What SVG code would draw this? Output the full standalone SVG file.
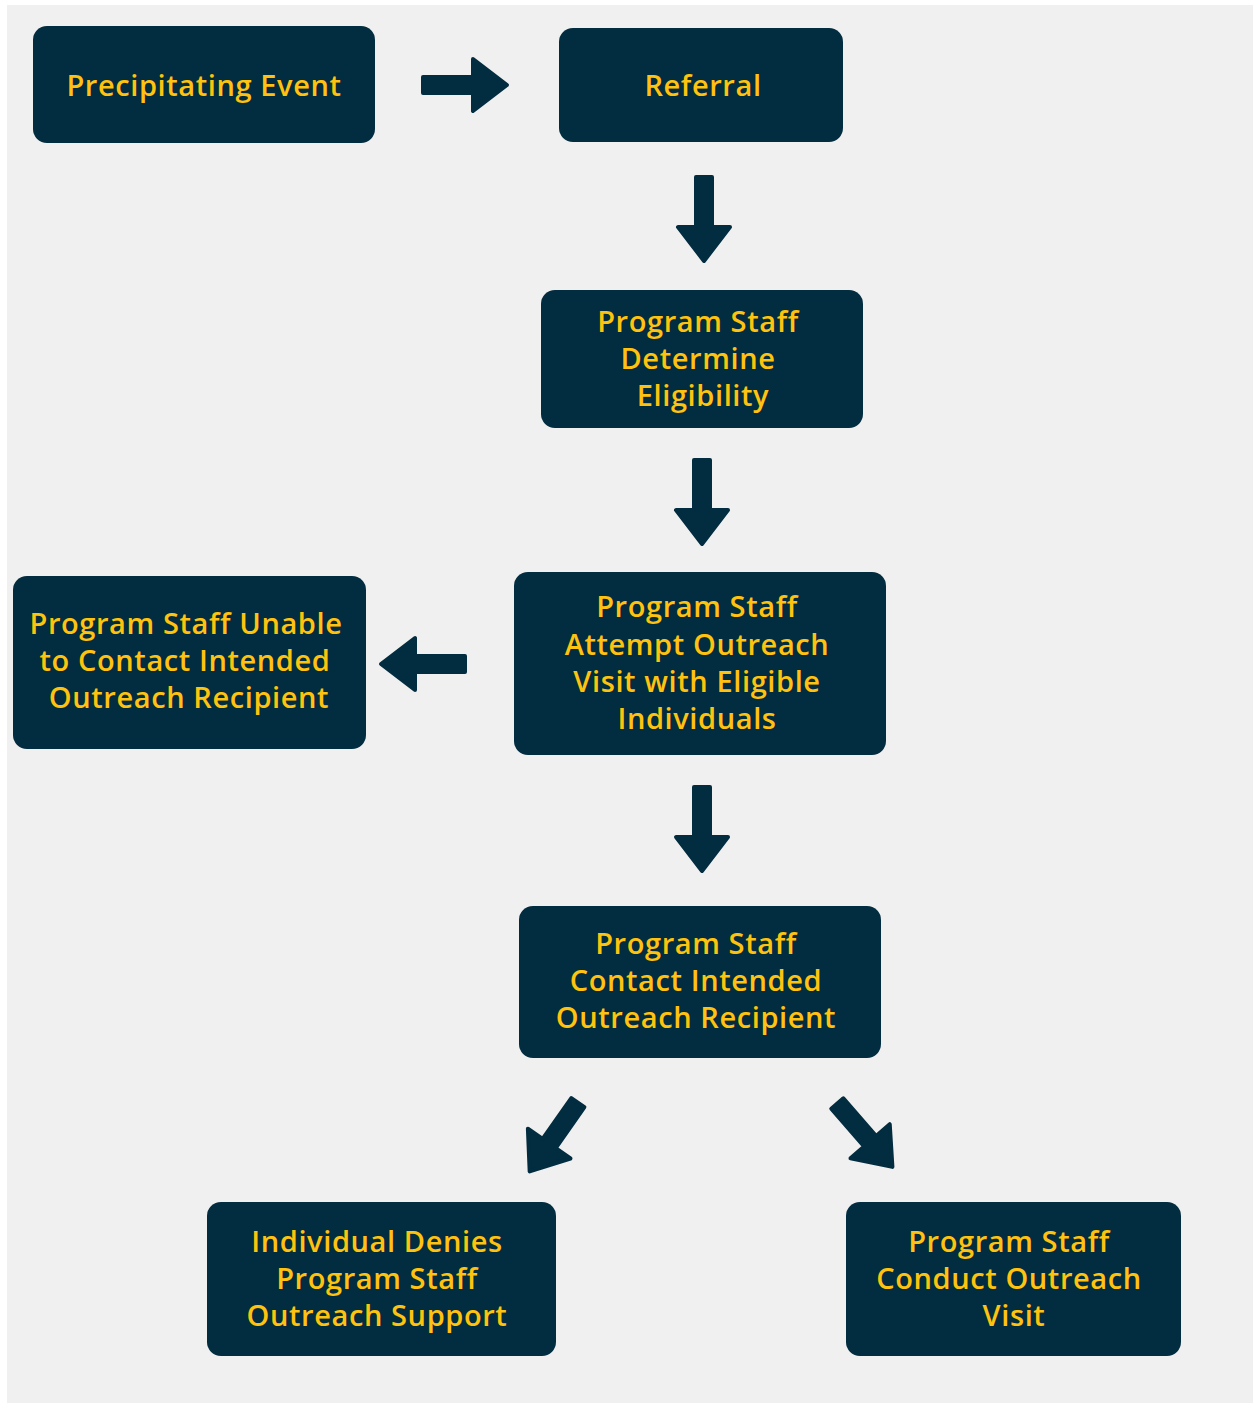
<svg xmlns="http://www.w3.org/2000/svg" width="1253" height="1403" viewBox="0 0 1253 1403">
<defs>
<style>
.box{fill:#022c3f;}
.t{font-family:"Open Sans","Noto Sans","DejaVu Sans",sans-serif;font-weight:600;font-size:29px;letter-spacing:0.6px;fill:#ffc20e;text-anchor:middle;}
.arr{fill:#022c3f;stroke:#022c3f;stroke-width:4;stroke-linejoin:round;}
</style>
<path id="a" d="M2,-8 L52,-8 L52,-26 L86,0 L52,26 L52,8 L2,8 Z"/>
</defs>
<rect x="0" y="0" width="1253" height="1403" fill="#ffffff"/>
<rect x="7" y="5" width="1246" height="1398" fill="#f0f0f0"/>
<g id="connectors">
<use href="#a" class="arr" transform="translate(421,85)"/>
<use href="#a" class="arr" transform="translate(704,175) rotate(90)"/>
<use href="#a" class="arr" transform="translate(702,458) rotate(90)"/>
<use href="#a" class="arr" transform="translate(467,664) rotate(180)"/>
<use href="#a" class="arr" transform="translate(702,785) rotate(90)"/>
<use href="#a" class="arr" transform="translate(579,1101) rotate(125)"/>
<use href="#a" class="arr" transform="translate(836,1102) rotate(49)"/>
</g>
<g id="n1">
<rect class="box" x="33" y="26" width="342" height="117" rx="14"/>
<text class="t" x="204" y="96">Precipitating Event</text>
</g>
<g id="n2">
<rect class="box" x="559" y="28" width="284" height="114" rx="14"/>
<text class="t" x="703" y="96">Referral</text>
</g>
<g id="n3">
<rect class="box" x="541" y="290" width="322" height="138" rx="14"/>
<text class="t" x="698" y="332">Program Staff</text>
<text class="t" x="698" y="369">Determine</text>
<text class="t" x="703" y="406">Eligibility</text>
</g>
<g id="n4">
<rect class="box" x="514" y="572" width="372" height="183" rx="14"/>
<text class="t" x="697" y="617">Program Staff</text>
<text class="t" x="697" y="655">Attempt Outreach</text>
<text class="t" x="697" y="692">Visit with Eligible</text>
<text class="t" x="697" y="729">Individuals</text>
</g>
<g id="n5">
<rect class="box" x="13" y="576" width="353" height="173" rx="14"/>
<text class="t" x="186" y="634">Program Staff Unable</text>
<text class="t" x="185" y="671">to Contact Intended</text>
<text class="t" x="189" y="708">Outreach Recipient</text>
</g>
<g id="n6">
<rect class="box" x="519" y="906" width="362" height="152" rx="14"/>
<text class="t" x="696" y="954">Program Staff</text>
<text class="t" x="696" y="991">Contact Intended</text>
<text class="t" x="696" y="1028">Outreach Recipient</text>
</g>
<g id="n7">
<rect class="box" x="207" y="1202" width="349" height="154" rx="14"/>
<text class="t" x="377" y="1252">Individual Denies</text>
<text class="t" x="377" y="1289">Program Staff</text>
<text class="t" x="377" y="1326">Outreach Support</text>
</g>
<g id="n8">
<rect class="box" x="846" y="1202" width="335" height="154" rx="14"/>
<text class="t" x="1009" y="1252">Program Staff</text>
<text class="t" x="1009" y="1289">Conduct Outreach</text>
<text class="t" x="1014" y="1326">Visit</text>
</g>
</svg>
